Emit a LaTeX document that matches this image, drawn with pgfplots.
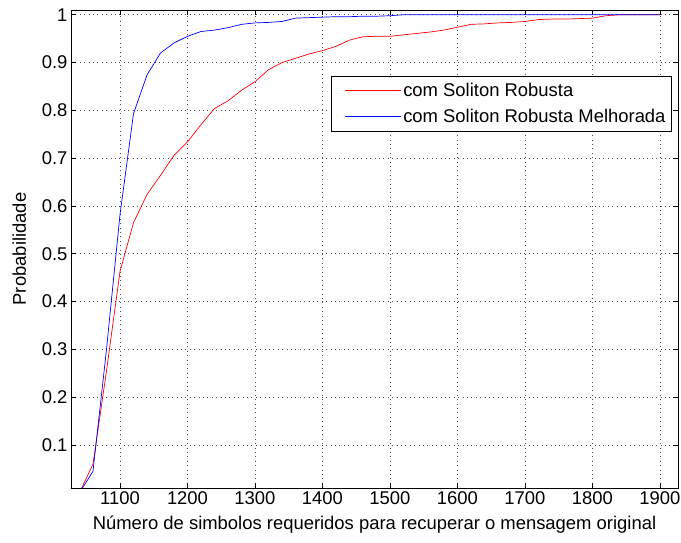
\documentclass[border=0pt]{standalone}
\usepackage{fontspec}
\setmainfont{Liberation Sans}
\usepackage{pgfplots}
\pgfplotsset{compat=1.18}
\usetikzlibrary{calc}

\pgfplotstableread{
x y
1040 0
1060 0.060
1080 0.255
1100 0.463
1120 0.565
1140 0.624
1160 0.664
1180 0.706
1200 0.734
1220 0.770
1240 0.804
1260 0.820
1280 0.842
1300 0.860
1320 0.885
1340 0.900
1360 0.909
1380 0.918
1400 0.925
1420 0.934
1440 0.947
1460 0.954
1480 0.955
1500 0.955
1520 0.958
1540 0.961
1560 0.964
1580 0.968
1600 0.974
1620 0.980
1640 0.981
1660 0.983
1680 0.984
1700 0.986
1720 0.990
1740 0.991
1760 0.991
1780 0.992
1800 0.993
1820 0.998
1840 1.000
1860 1.000
1880 1.000
1900 1.000
}\robusta

\pgfplotstableread{
x y
1040 0
1060 0.045
1080 0.300
1100 0.582
1120 0.793
1140 0.874
1160 0.920
1180 0.941
1200 0.955
1220 0.965
1240 0.968
1260 0.973
1280 0.980
1300 0.983
1320 0.984
1340 0.986
1360 0.993
1380 0.994
1400 0.995
1420 0.996
1440 0.996
1460 0.997
1480 0.997
1500 0.998
1520 1.000
1600 1.000
1700 1.000
1800 1.000
1900 1.000
}\melhorada

\begin{document}
\begin{tikzpicture}
\begin{axis}[
  scale only axis,
  width=607bp, height=478bp,
  xmin=1027.4, xmax=1926.7,
  ymin=0.01, ymax=1.01,
  xtick={1100,1200,...,1900},
  ytick={0.1,0.2,...,1.0},
  /pgf/number format/set thousands separator={},
  /pgf/number format/assume math mode=true,
  font=\fontsize{18.5}{22}\selectfont,
  tick label style={font=\fontsize{18.5}{22}\selectfont},
  tick align=inside,
  major tick length=5bp,
  tick style={black, line width=0.6bp},
  axis line style={black, line width=0.9bp},
  grid=major,
  major grid style={black!70, line width=0.6bp, dash pattern=on 0.8bp off 3.6bp},
  xlabel={Número de simbolos requeridos para recuperar o mensagem original},
  xlabel style={yshift=-5bp},
  ylabel={Probabilidade},
  ylabel style={yshift=9bp},
  legend style={at={(rel axis cs:0.990,0.862)}, anchor=north east,
    draw=black, line width=0.8bp, font=\fontsize{18.5}{22}\selectfont,
    inner xsep=4bp, inner ysep=5bp, row sep=7bp},
  legend cell align=left,
  legend image code/.code={\path (-9bp,0bp); \draw[#1] (0bp,0bp) -- (56bp,0bp);},
]
\addplot[red, line width=0.7bp] table[x=x,y=y] {\robusta};
\addplot[blue, line width=0.7bp] table[x=x,y=y] {\melhorada};
\legend{com Soliton Robusta, com Soliton Robusta Melhorada}
\coordinate (sw) at (rel axis cs:0,0);
\coordinate (ne) at (rel axis cs:1,1);
\end{axis}
\pgfresetboundingbox
\path[use as bounding box] ($(sw)+(-71bp,-55bp)$) rectangle ($(ne)+(3bp,10bp)$);
\end{tikzpicture}
\end{document}
